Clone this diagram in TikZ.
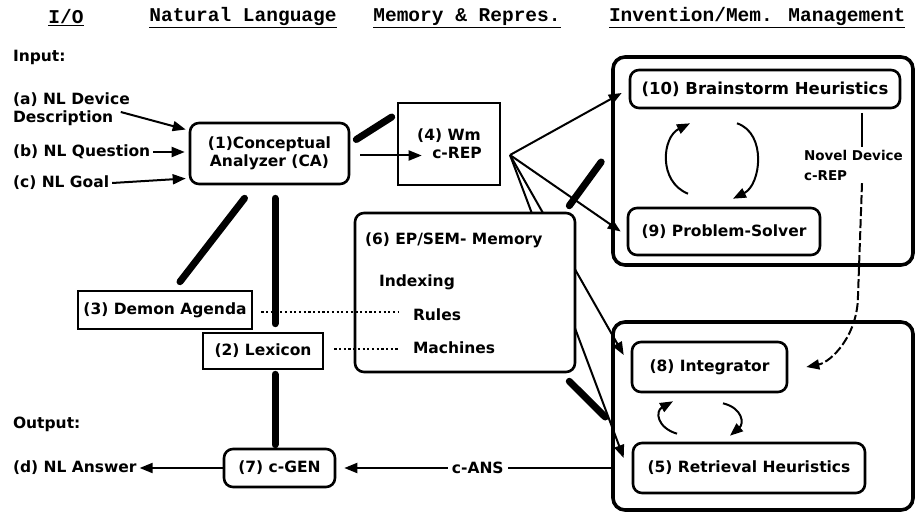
\documentclass[tikz,border=0pt]{standalone}
\usepackage{fontspec}
\setmainfont{DejaVu Sans}
\newfontfamily\headfont{Liberation Mono}
\usetikzlibrary{arrows.meta}
\tikzset{
	box/.style={draw,line width=2.6pt,inner sep=0pt},
	rbox/.style={box,rounded corners=9pt},
	group/.style={draw,line width=3.6pt,rounded corners=12pt},
	heavy/.style={line width=7pt,line cap=round},
	dots/.style={line width=2.2pt,dash pattern=on 2.2pt off 2.5pt},
	head/.style={font=\headfont\bfseries\fontsize{19.5}{22}\selectfont},
}
\begin{document}
\begin{tikzpicture}[x=1pt,y=-1pt,line width=2pt,>={Triangle[length=13pt,width=10pt]},
	every node/.style={inner sep=2pt,font=\bfseries\fontsize{15.5}{18}\selectfont}]
	\useasboundingbox (0,0) rectangle (917,513);
	\node[head] at (66,18) (hio) {\underline{I/O}};
	\node[head] at (243,18) (hnl) {\underline{Natural Language}};
	\node[head] at (467,18) (hmem) {\underline{Memory \& Repres.}};
	\node[head,anchor=west] at (606,18) (hinv) {\underline{Invention/Mem. Management}};
	\node[anchor=west] at (10,57) (input) {Input:};
	\node[anchor=west,align=left] at (10,109) (devdesc) {(a) NL Device\\Description};
	\node[anchor=west] at (10,152) (question) {(b) NL Question};
	\node[anchor=west] at (10,183) (goal) {(c) NL Goal};
	\node[anchor=west] at (10,424) (output) {Output:};
	\node[anchor=west] at (10,468) (answer) {(d) NL Answer};
	\node[rbox,minimum width=159pt,minimum height=61pt,align=center] at (269.5,153.5) (ca) {(1)Conceptual\\Analyzer (CA)};
	\node[box,minimum width=102pt,minimum height=82pt,align=center] at (449,144) (wm) {(4) Wm\\\hspace*{16pt}c-REP};
	\node[box,minimum width=174pt,minimum height=38pt] at (165,310) (demon) {(3) Demon Agenda};
	\node[box,minimum width=120pt,minimum height=36pt] at (263,351) (lex) {(2) Lexicon};
	\node[rbox,minimum width=111pt,minimum height=38pt] at (279.5,468) (cgen) {(7) c-GEN};
	\node[group,minimum width=300pt,minimum height=208pt] at (763,161) (ideas) {};
	\node[rbox,minimum width=270pt,minimum height=38pt,font=\bfseries\fontsize{16.5}{18}\selectfont] at (765,89) (brain) {(10) Brainstorm Heuristics};
	\node[rbox,minimum width=192pt,minimum height=47pt] at (724,231.5) (solver) {(9) Problem-Solver};
	\node[group,minimum width=300pt,minimum height=188pt] at (763,416) (recall) {};
	\node[rbox,minimum width=155pt,minimum height=50pt] at (709.5,367) (integ) {(8) Integrator};
	\node[rbox,minimum width=232pt,minimum height=50pt] at (749,468) (retr) {(5) Retrieval Heuristics};
	\node[anchor=west,align=left,font=\bfseries\fontsize{13.5}{20}\selectfont] at (801,165) (novel) {Novel Device\\c-REP};
	\coordinate (fan) at (510,155);
	\coordinate (drop) at (862,113);
	\draw[->] (fan) -- ([shift={(-7,4)}]brain.west);
	\draw[->] (fan) -- ([shift={(-6,0)}]solver.west);
	\draw[->] (fan) -- ([shift={(-7,-12)}]integ.west);
	\draw[->] (fan) -- ([shift={(-8,-10)}]retr.west);
	\node[rbox,fill=white,minimum width=220pt,minimum height=159pt] at (465,292.5) (mem) {};
	\node[anchor=west] at (362,240) (memtitle) {(6) EP/SEM- Memory};
	\node[anchor=west] at (376,282) (indexing) {Indexing};
	\node[anchor=west] at (410,315) (rules) {Rules};
	\node[anchor=west] at (410,348) (machines) {Machines};
	\draw[->] ([shift={(-12,3)}]devdesc.east) -- ([shift={(-3,-24)}]ca.west);
	\draw[->] (question.east) -- ([shift={(-4,-1.5)}]ca.west);
	\draw[->] (goal.east) -- ([shift={(-3,25)}]ca.west);
	\draw[heavy] ([shift={(6,-14)}]ca.east) -- ([shift={(-5,-27)}]wm.west);
	\draw[->] ([shift={(10,2)}]ca.east) -- ([shift={(25,11.5)}]wm.west);
	\draw[heavy] ([shift={(-25,13)}]ca.south) -- ([shift={(15,-8)}]demon.north);
	\draw[heavy] ([shift={(5.5,13)}]ca.south) -- ([shift={(12,-8)}]lex.north);
	\draw[heavy] ([shift={(12,4)}]lex.south) -- ([shift={(-4.5,-3)}]cgen.north);
	\draw[->] (cgen.west) -- (answer.east);
	\draw[->] ([shift={(0,52)}]recall.west) -- node[fill=white,inner sep=4pt] (cans) {c-ANS} ([shift={(8,0)}]cgen.east);
	\draw[dots] ([shift={(8,2)}]demon.east) -- ([shift={(-12,-3)}]rules.west);
	\draw[dots] ([shift={(10,-2)}]lex.east) -- ([shift={(-12,1)}]machines.west);
	\draw[heavy] ([shift={(-7,-6)}]mem.north east) -- ([shift={(-10,1)}]ideas.west);
	\draw[heavy] ([shift={(-7,8)}]mem.south east) -- ([shift={(-6,1)}]recall.west);
	\draw[->] ([shift={(-36,-13)}]solver.north) .. controls +(-30,-12) and +(-28,14) .. ([shift={(-75,14)}]brain.south);
	\draw[->] ([shift={(-28,14)}]brain.south) .. controls +(30,10) and +(28,-14) .. ([shift={(9,-8)}]solver.north);
	\draw[->] ([shift={(-72,-8)}]retr.north) .. controls +(-20,-6) and +(-18,10) .. ([shift={(-36.5,8)}]integ.south);
	\draw[->] ([shift={(13.5,10)}]integ.south) .. controls +(20,5) and +(14,-12) .. ([shift={(-19,-6)}]retr.north);
	\draw (drop) -- (drop |- novel.north);
	\draw[->,dash pattern=on 9pt off 3pt] (drop |- novel.south) -- ++(-4,112) .. controls +(0,40) and +(25,-5) .. ([shift={(18,0)}]integ.east);
\end{tikzpicture}
\end{document}
